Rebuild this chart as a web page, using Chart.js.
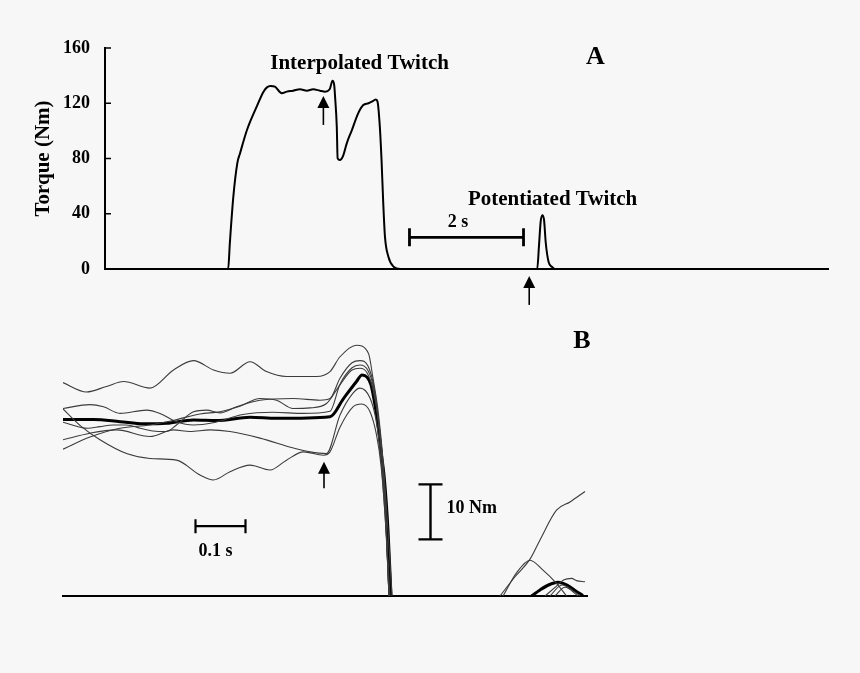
<!DOCTYPE html>
<html>
<head>
<meta charset="utf-8">
<script src="https://cdn.jsdelivr.net/npm/chart.js@4.4.0/dist/chart.umd.min.js"></script>
<style>
  body { margin: 0; background: #f7f7f7; }
  #wrap { position: relative; width: 860px; height: 673px; }
  canvas { position: absolute; left: 0; }
  #chartA { top: 0; }
  #chartB { top: 320px; }
</style>
</head>
<body>
<div id="wrap">
  <canvas id="chartA" width="860" height="320"></canvas>
  <canvas id="chartB" width="860" height="353"></canvas>
</div>
<script>
const SERIF = '"Liberation Serif", "Times New Roman", serif';

// Panel A: whole contraction, time in s, torque in Nm
const timeA = [0, 2.16, 2.19, 2.25, 2.32, 2.37, 2.49, 2.66, 2.78, 2.84, 2.90, 2.98, 3.10, 3.19, 3.30, 3.42,
  3.54, 3.65, 3.77, 3.86, 3.94, 3.99, 4.02, 4.035, 4.065, 4.08, 4.12, 4.17, 4.24, 4.33, 4.44, 4.53, 4.62,
  4.68, 4.75, 4.78, 4.82, 4.85, 4.88, 4.91, 4.97, 5.06, 5.18, 7.58, 7.61, 7.64, 7.67, 7.70, 7.73, 7.78,
  7.84, 7.89, 12.68];
const torqueA = [0, 0, 19, 52, 76.5, 84, 100.6, 117.5, 128.4, 131.5, 132.5, 132, 127.2, 128.4, 129.1, 130.1,
  129.1, 130.1, 129.1, 128.4, 130.1, 136.3, 133.2, 124.8, 103, 80.1, 78.9, 81.3, 91, 100.6, 112.7, 118.7, 120,
  121.1, 122.8, 121.1, 103, 78.9, 47.6, 23.4, 8.9, 1.7, 0, 0, 16, 34, 39, 35.5, 19, 5,
  1.5, 0, 0];
const torqueTicks = [0, 40, 80, 120, 160];

// Panel B: zoom on the twitch, [time ms, Nm above the cut line], null = below the line
const traceMean = [[0, 32.1], [61, 32.1], [114, 31.7], [161, 31.3], [207, 31.4], [261, 32.0], [307, 31.9],
  [374, 32.5], [427, 32.3], [534, 32.6], [561, 35.9], [587, 39.0], [598, 40.2], [608, 39.8], [616, 38.4],
  [624, 34.7], [631, 30.5], [637, 25.6], [642, 22.0], [650, 12.0], [656, 0], [700, null],
  [937, 0], [954, 1.1], [971, 2.0], [990, 2.5], [1008, 2.0], [1024, 1.0], [1040, 0.1]];
const trace1 = [[0, 38.8], [47, 37.1], [87, 38.1], [121, 39.0], [174, 37.8], [221, 41.1], [261, 42.8],
  [301, 41.1], [334, 40.5], [374, 42.6], [407, 40.8], [447, 39.9], [507, 39.9], [534, 40.8], [554, 43.5],
  [587, 45.6], [611, 44.1], [620, 39.6], [630, 33.8], [640, 24.7], [650, 12.0], [658, 0], [700, null],
  [874, 0], [904, 3.5], [934, 6.7], [954, 10.2], [987, 15.6], [1014, 17.1], [1044, 19.0]];
const trace2 = [[0, 34.1], [54, 34.8], [81, 34.4], [114, 33.2], [167, 33.8], [194, 33.2], [227, 31.7],
  [261, 31.1], [300, 31.5], [360, 33.0], [420, 33.4], [480, 33.2], [534, 33.6], [554, 38.5], [578, 41.5],
  [594, 42.0], [610, 41.0], [622, 37.5], [632, 30.5], [642, 20.2], [652, 0], [700, null],
  [880, 0], [907, 4.2], [934, 6.5], [960, 4.7], [987, 2.3], [1007, 0]];
const trace3 = [[0, 34.0], [37, 30.8], [74, 28.4], [127, 25.9], [174, 25.0], [227, 24.7], [274, 22.0],
  [301, 21.1], [334, 22.6], [374, 23.8], [414, 22.9], [447, 24.7], [481, 26.2], [521, 25.6], [534, 26.2],
  [554, 30.7], [580, 34.4], [597, 34.9], [614, 33.5], [627, 29.3], [636, 23.8], [646, 12.0], [652, 0]];
const trace4 = [[0, 28.4], [54, 29.6], [107, 30.2], [174, 29.0], [221, 30.2], [254, 29.9], [294, 30.2],
  [334, 29.9], [394, 28.7], [461, 26.9], [494, 26.2], [527, 25.9], [554, 32.9], [580, 36.9], [594, 37.8],
  [614, 36.0], [626, 32.0], [636, 24.7], [646, 12.0], [654, 0], [700, null],
  [964, 0], [987, 1.8], [1001, 2.9], [1017, 3.2], [1027, 2.8], [1044, 2.6]];
const trace5 = [[0, 26.7], [54, 28.9], [114, 30.5], [174, 31.1], [224, 32.0], [274, 33.1], [314, 33.5],
  [354, 34.5], [394, 35.9], [427, 35.6], [460, 34.1], [494, 34.2], [527, 35.0], [554, 38.4], [578, 41.1],
  [594, 41.4], [608, 40.6], [620, 37.5], [632, 31.1], [642, 21.1], [652, 0], [700, null],
  [974, 0], [998, 2.0], [1024, 0.7], [1034, 0]];
const trace6 = [[0, 31.6], [50, 30.5], [74, 30.8], [100, 31.1], [127, 31.1], [154, 30.5], [180, 30.0],
  [207, 29.9], [227, 31.1], [261, 33.5], [287, 33.8], [314, 33.3], [347, 34.4], [394, 35.6], [460, 35.9],
  [514, 35.6], [534, 35.9], [554, 39.6], [578, 42.4], [594, 42.8], [610, 41.8], [622, 38.0], [632, 31.1],
  [642, 21.1], [652, 0], [700, null], [984, 0], [1004, 1.6], [1030, 0]];

// labels, arrows and scale bars, placed in data units of each panel
const notesA = [
  { type: 'text', x: 4.465, y: 144.8, text: 'Interpolated Twitch', size: 21 },
  { type: 'text', x: 8.60, y: 148.4, text: 'A', size: 26 },
  { type: 'text', x: 7.85, y: 46.3, text: 'Potentiated Twitch', size: 21 },
  { type: 'text', x: 6.19, y: 30.4, text: '2 s', size: 18 },
  { type: 'hbar', x1: 5.34, x2: 7.34, y: 22.95, cap: 9, width: 2.8 },
  { type: 'arrow', x: 3.83, tip: 125.2, tail: 104.3 },
  { type: 'arrow', x: 7.44, tip: -5.1, tail: -26 }
];
const notesB = [
  { type: 'text', x: 1038, y: 45.1, text: 'B', size: 26 },
  { type: 'arrow', x: 522, tip: 24.4, tail: 19.6 },
  { type: 'hbar', x1: 265, x2: 365, y: 12.7, cap: 7, width: 2.2 },
  { type: 'text', x: 305, y: 7.3, text: '0.1 s', size: 18 },
  { type: 'vbar', x: 735, y1: 10.3, y2: 20.3, cap: 12, width: 2.4 },
  { type: 'text', x: 767, y: 15.1, text: '10 Nm', size: 18, align: 'left' }
];

function makeNotes(items) {
  return {
    id: 'notes',
    afterDraw(chart) {
      const ctx = chart.ctx;
      const sx = chart.scales.x, sy = chart.scales.y;
      ctx.save();
      ctx.fillStyle = '#000';
      ctx.strokeStyle = '#000';
      items.forEach(n => {
        if (n.type === 'text') {
          ctx.font = 'bold ' + n.size + 'px ' + SERIF;
          ctx.textAlign = n.align || 'center';
          ctx.textBaseline = 'alphabetic';
          ctx.fillText(n.text, sx.getPixelForValue(n.x), sy.getPixelForValue(n.y));
        } else if (n.type === 'hbar') {
          const a = sx.getPixelForValue(n.x1), b = sx.getPixelForValue(n.x2), y = sy.getPixelForValue(n.y);
          ctx.lineWidth = n.width;
          ctx.beginPath();
          ctx.moveTo(a, y); ctx.lineTo(b, y);
          ctx.moveTo(a, y - n.cap); ctx.lineTo(a, y + n.cap);
          ctx.moveTo(b, y - n.cap); ctx.lineTo(b, y + n.cap);
          ctx.stroke();
        } else if (n.type === 'vbar') {
          const x = sx.getPixelForValue(n.x), a = sy.getPixelForValue(n.y1), b = sy.getPixelForValue(n.y2);
          ctx.lineWidth = n.width;
          ctx.beginPath();
          ctx.moveTo(x, a); ctx.lineTo(x, b);
          ctx.moveTo(x - n.cap, a); ctx.lineTo(x + n.cap, a);
          ctx.moveTo(x - n.cap, b); ctx.lineTo(x + n.cap, b);
          ctx.stroke();
        } else if (n.type === 'arrow') {
          const x = sx.getPixelForValue(n.x), tip = sy.getPixelForValue(n.tip), tail = sy.getPixelForValue(n.tail);
          ctx.lineWidth = 1.6;
          ctx.beginPath();
          ctx.moveTo(x, tail); ctx.lineTo(x, tip + 8);
          ctx.stroke();
          ctx.beginPath();
          ctx.moveTo(x, tip); ctx.lineTo(x - 6, tip + 12); ctx.lineTo(x + 6, tip + 12);
          ctx.closePath();
          ctx.fill();
        }
      });
      ctx.restore();
    }
  };
}

// short tick marks pointing into the plot, as on the original y axis
const inwardTicks = {
  id: 'inwardTicks',
  afterDraw(chart) {
    const s = chart.scales.y, ctx = chart.ctx;
    ctx.save();
    ctx.strokeStyle = '#000';
    ctx.lineWidth = 1.5;
    s.ticks.forEach(t => {
      if (t.value === s.min) return;
      const y = s.getPixelForValue(t.value);
      ctx.beginPath();
      ctx.moveTo(s.right, y); ctx.lineTo(s.right + 6, y);
      ctx.stroke();
    });
    ctx.restore();
  }
};

const pairs = arr => arr.map(p => ({ x: p[0], y: p[1] }));
const lineStyle = (w, c) => ({
  borderColor: c, borderWidth: w, pointRadius: 0, fill: false,
  tension: 0.4, cubicInterpolationMode: 'monotone'
});

new Chart(document.getElementById('chartA'), {
  type: 'line',
  data: {
    datasets: [Object.assign({ data: timeA.map((t, i) => ({ x: t, y: torqueA[i] })) }, lineStyle(2, '#000'))]
  },
  options: {
    responsive: false,
    animation: false,
    events: [],
    layout: { padding: { left: 0, right: 32, top: 48, bottom: 51 } },
    plugins: { legend: { display: false }, tooltip: { enabled: false } },
    scales: {
      x: {
        type: 'linear', min: 0, max: 12.68,
        grid: { display: false },
        ticks: { display: false },
        border: { display: true, color: '#000', width: 2 },
        afterFit: s => { s.height = 0; }
      },
      y: {
        min: 0, max: 160,
        grid: { display: false },
        border: { display: true, color: '#000', width: 2 },
        afterBuildTicks: s => { s.ticks = torqueTicks.map(v => ({ value: v })); },
        ticks: { color: '#000', padding: 7, font: { family: SERIF, size: 18, weight: 'bold' } },
        title: {
          display: true, text: 'Torque (Nm)', color: '#000',
          padding: { top: 31, bottom: 0 },
          font: { family: SERIF, size: 21, weight: 'bold' }
        },
        afterFit: s => { s.width = 105; }
      }
    }
  },
  plugins: [inwardTicks, makeNotes(notesA)]
});

const thin = [trace1, trace2, trace3, trace4, trace5, trace6];
new Chart(document.getElementById('chartB'), {
  type: 'line',
  data: {
    datasets: thin.map(tr => Object.assign({ data: pairs(tr) }, lineStyle(1.1, '#3c3c3c')))
      .concat([Object.assign({ data: pairs(traceMean) }, lineStyle(3, '#000'))])
  },
  options: {
    responsive: false,
    animation: false,
    events: [],
    layout: { padding: { left: 63, right: 273, top: 1, bottom: 77 } },
    plugins: { legend: { display: false }, tooltip: { enabled: false } },
    scales: {
      x: {
        type: 'linear', min: 0, max: 1048,
        grid: { display: false },
        ticks: { display: false },
        border: { display: true, color: '#000', width: 2 },
        afterFit: s => { s.height = 0; }
      },
      y: { min: 0, max: 50, display: false }
    }
  },
  plugins: [makeNotes(notesB)]
});
</script>
</body>
</html>
